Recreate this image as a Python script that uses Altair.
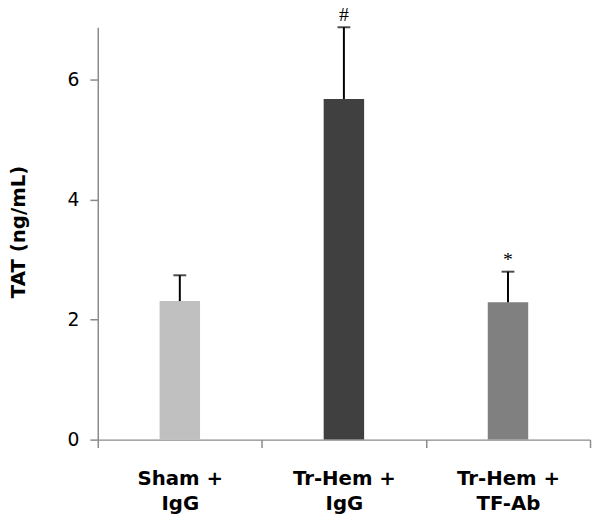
import altair as alt
import pandas as pd

categories = ["Sham +|IgG", "Tr-Hem +|IgG", "Tr-Hem +|TF-Ab"]
means = [2.31, 5.68, 2.29]
upper = [2.74, 6.875, 2.80]
marks = ["", "#", "*"]
colors = ["#c0c0c0", "#404040", "#808080"]

df = pd.DataFrame({"cat": categories, "mean": means, "upper": upper,
                   "mark": marks, "color": colors})

FONT = "DejaVu Sans"
AXIS_GRAY = "#8a8a8a"

x = alt.X("cat:N", sort=categories, title=None,
          scale=alt.Scale(paddingInner=0, paddingOuter=0),
          axis=alt.Axis(labelAngle=0, tickBand="extent", tickSize=8,
                        tickColor=AXIS_GRAY, tickWidth=1.5,
                        domainColor=AXIS_GRAY, domainWidth=1.5,
                        labelFont=FONT, labelFontSize=20, labelFontWeight="bold",
                        labelColor="black", labelPadding=21, labelLineHeight=26,
                        labelExpr="split(datum.label, '|')"))

yscale = alt.Scale(domain=[0, 6.875], nice=False, zero=True)

bars = alt.Chart(df).mark_bar(size=41).encode(
    x=x,
    y=alt.Y("mean:Q", scale=yscale, title="TAT (ng/mL)",
            axis=alt.Axis(values=[0, 2, 4, 6], format="d", grid=False, tickSize=8,
                          tickColor=AXIS_GRAY, tickWidth=1.5,
                          domainColor=AXIS_GRAY, domainWidth=1.5,
                          labelFont=FONT, labelFontSize=19, labelColor="black",
                          labelPadding=11,
                          titleFont=FONT, titleFontSize=20, titleFontWeight="bold",
                          titleColor="black", titleX=-80, titleY=207,
                          titleBaseline="middle", titleAngle=270)),
    color=alt.Color("color:N", scale=None),
)

err = alt.Chart(df).mark_rule(color="black", strokeWidth=2).encode(
    x=alt.X("cat:N", sort=categories),
    y=alt.Y("mean:Q", scale=yscale),
    y2="upper:Q",
)

caps = alt.Chart(df).mark_tick(color="black", size=13, thickness=2, orient="horizontal").encode(
    x=alt.X("cat:N", sort=categories),
    y=alt.Y("upper:Q", scale=yscale),
)

ann = alt.Chart(df).mark_text(font="Liberation Serif", fontSize=20, dy=-12,
                              color="black").encode(
    x=alt.X("cat:N", sort=categories),
    y=alt.Y("upper:Q", scale=yscale),
    text="mark:N",
)

chart = alt.layer(bars, err, caps, ann).properties(
    width=499, height=418,
    autosize=alt.AutoSizeParams(type="none"),
    padding={"left": 91, "top": 16, "right": 2, "bottom": 82},
).configure_view(stroke=None)

chart.save("out.html", embed_options={"renderer": "svg", "actions": False})
